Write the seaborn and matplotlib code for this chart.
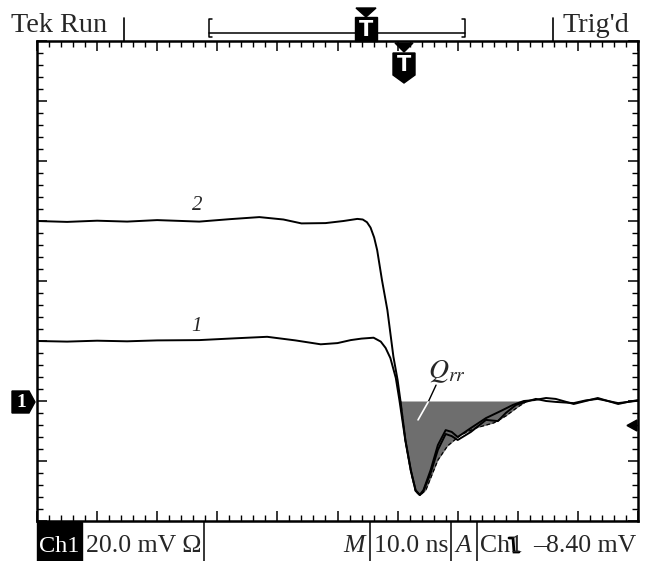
import numpy as np
import pandas as pd
import matplotlib.pyplot as plt
import seaborn as sns
from matplotlib.patches import Polygon, Rectangle

# 데이터: 시간 [ns], 전압 [mV] (20 mV/div, 10 ns/div)
trace2_t = [0, 5, 10, 15, 20, 27, 32, 37, 41, 44, 48, 51, 53.3, 54.2, 54.9, 55.5,
            56.1, 56.6, 57.4, 58.3, 59.3, 60.0, 60.5, 61.3, 62.2, 63.0, 63.7, 64.3,
            65.5, 66.7, 68.0, 69.0, 70.0, 72.2, 74.7, 77.2, 79.2, 81.0, 82.7, 84.7,
            86.3, 89.3, 91.3, 93.3, 95.0, 96.7, 98.3, 100]
trace2_v = [60, 59.7, 60.1, 59.8, 60.3, 59.8, 60.6, 61.3, 60.5, 59.2, 59.3, 60.0,
            60.7, 60.5, 59.6, 57.8, 54.5, 50.3, 40.3, 30.3, 14.8, 7.0, -0.3, -13,
            -23, -29.7, -31.3, -29.7, -23, -14.7, -9.7, -10.3, -12, -9, -5.7, -3.3,
            -1.3, 0, 0.3, 1, 0.7, -1, 0, 1, 0, -1, -0.3, 0.3]

trace1_t = [0, 5, 10, 15, 20, 27, 33, 38.3, 43, 47.2, 50, 52.2, 54, 56, 57.2, 58,
            58.8, 59.7, 60.3, 61.3, 62.2, 63.0, 63.7, 64.3, 65.5, 66.7, 68.0, 69.0,
            70.0, 72.2, 74.7, 76.7, 78.0, 79.7, 81.3, 83, 84.7, 86.3, 89.3, 91.3,
            93.3, 96.7, 100]
trace1_v = [20, 19.8, 20.1, 19.9, 20.2, 20.3, 20.9, 21.4, 20.2, 18.9, 19.3, 20.3,
            20.8, 21.1, 19.8, 17.7, 14.3, 7.7, 0.3, -13.3, -23.3, -30, -31.3, -30,
            -24, -16.3, -11, -11.7, -13, -10.3, -6.3, -6.7, -4, -1.3, -0.3, 0.7, 0,
            -0.3, -0.7, 0.2, 0.7, -0.7, 0.1]

# Qrr 영역 아래 경계 (점선)
env_t = [60.5, 61.3, 62.2, 63.0, 63.7, 64.7, 65.5, 66.7, 68.3, 70.5, 73.0, 76.0,
         78.0, 80.0, 81.3]
env_v = [0, -13.3, -23.5, -30.2, -31.5, -29.7, -25.7, -19.7, -15, -11.3, -9, -7.3,
         -5, -2, -0.3]

sns.set_style('ticks')
plt.rcParams['font.family'] = ['Liberation Serif', 'DejaVu Serif']
plt.rcParams['mathtext.fontset'] = 'stix'

W, H = 645, 561
fig = plt.figure(figsize=(W / 100, H / 100), dpi=100)
ax = fig.add_axes([37 / W, (H - 521) / H, 601 / W, 480 / H])

ax.fill_between(env_t, env_v, 0, color='#6e6e6e', lw=0, zorder=1)
sns.lineplot(x=env_t, y=env_v, ax=ax, color='k', lw=0.9, linestyle=(0, (3, 2)),
             estimator=None, sort=False, zorder=2)
sns.lineplot(x=trace1_t, y=trace1_v, ax=ax, color='k', lw=1.4,
             estimator=None, sort=False, zorder=3)
sns.lineplot(x=trace2_t, y=trace2_v, ax=ax, color='k', lw=1.4,
             estimator=None, sort=False, zorder=3)

ax.set_xlim(0, 100)
ax.set_ylim(-40, 120)
ax.set_xticks(np.arange(0, 101, 10))
ax.set_xticks(np.arange(0, 101, 2), minor=True)
ax.set_yticks(np.arange(-40, 121, 20))
ax.set_yticks(np.arange(-40, 121, 4), minor=True)
ax.tick_params(which='both', direction='in', top=True, right=True,
               labelbottom=False, labelleft=False, color='k')
ax.tick_params(which='major', length=7, width=1.1)
ax.tick_params(which='minor', length=4, width=1.0)
for s in ax.spines.values():
    s.set_linewidth(1.8)
    s.set_color('k')
ax.set_xlabel('')
ax.set_ylabel('')

# 곡선 번호와 Qrr 표시
ax.text(26.6, 65, '2', fontsize=15, style='italic', ha='center', va='center')
ax.text(26.6, 24.7, '1', fontsize=15, style='italic', ha='center', va='center')
ax.text(68.2, 7.7, r'$Q_{rr}$', fontsize=20, ha='center', va='baseline')
ax.plot([66.4, 65.1], [5.3, -0.3], color='k', lw=1.0, zorder=4)
ax.plot([65.1, 63.4], [-0.3, -6.3], color='w', lw=1.2, zorder=4)

# 화면 위/아래 상태 표시 (픽셀 좌표)
ov = fig.add_axes([0, 0, 1, 1])
ov.set_xlim(0, W)
ov.set_ylim(H, 0)
ov.axis('off')
fs = 18.5

ov.text(11, 32, 'Tek Run', fontsize=20.3, va='baseline')
ov.text(629, 32, "Trig'd", fontsize=20.3, va='baseline', ha='right')
ov.plot([124, 124], [18, 41], color='k', lw=1.2)
ov.plot([553, 553], [18, 41], color='k', lw=1.2)
ov.plot([212, 209, 209, 212], [19, 19, 37, 37], color='k', lw=1.1)
ov.plot([462, 465, 465, 462], [19, 19, 37, 37], color='k', lw=1.1)
ov.plot([209, 465], [33, 33], color='k', lw=1.1)
ov.add_patch(Rectangle((355, 17), 22, 24, color='k'))
ov.add_patch(Polygon([(356, 8), (376, 8), (366, 17)], color='k'))
ov.text(366, 30, 'T', fontsize=15, color='w', ha='center', va='center',
        family='DejaVu Sans', weight='bold')
ov.add_patch(Polygon([(395, 43), (413, 43), (404, 52)], color='k'))
ov.add_patch(Polygon([(393, 53), (415, 53), (415, 75), (404, 83), (393, 75)], color='k'))
ov.text(404, 65, 'T', fontsize=15, color='w', ha='center', va='center',
        family='DejaVu Sans', weight='bold')

# 채널 1 접지 표시와 트리거 레벨 화살표
ov.add_patch(Polygon([(12, 391), (29, 391), (35, 402), (29, 413), (12, 413)], color='k'))
ov.text(21, 402.5, '1', fontsize=14, color='w', ha='center', va='center', weight='bold')
ov.add_patch(Polygon([(637, 420), (637, 431), (627, 425.5)], color='k'))

# 아래 상태 줄
ov.add_patch(Rectangle((37, 522), 45, 39, color='k'))
ov.text(59.5, 552, 'Ch1', fontsize=17.5, color='w', va='baseline', ha='center')
ov.text(86, 552, '20.0 mV Ω', fontsize=fs, va='baseline')
for xd in [204, 370, 451, 477]:
    ov.plot([xd, xd], [522, 561], color='k', lw=1.1)
ov.text(365, 552, 'M', fontsize=fs, style='italic', va='baseline', ha='right')
ov.text(374, 552, '10.0 ns', fontsize=fs, va='baseline')
ov.text(455, 552, 'A', fontsize=fs, style='italic', va='baseline')
ov.text(480, 552, 'Ch1', fontsize=fs, va='baseline')
ov.plot([509, 513, 514, 519], [538, 538, 552, 552], color='k', lw=2.0,
        solid_joinstyle='miter')
ov.text(636, 552, '–8.40 mV', fontsize=fs, va='baseline', ha='right')

fig.savefig('out.png', dpi=100)
